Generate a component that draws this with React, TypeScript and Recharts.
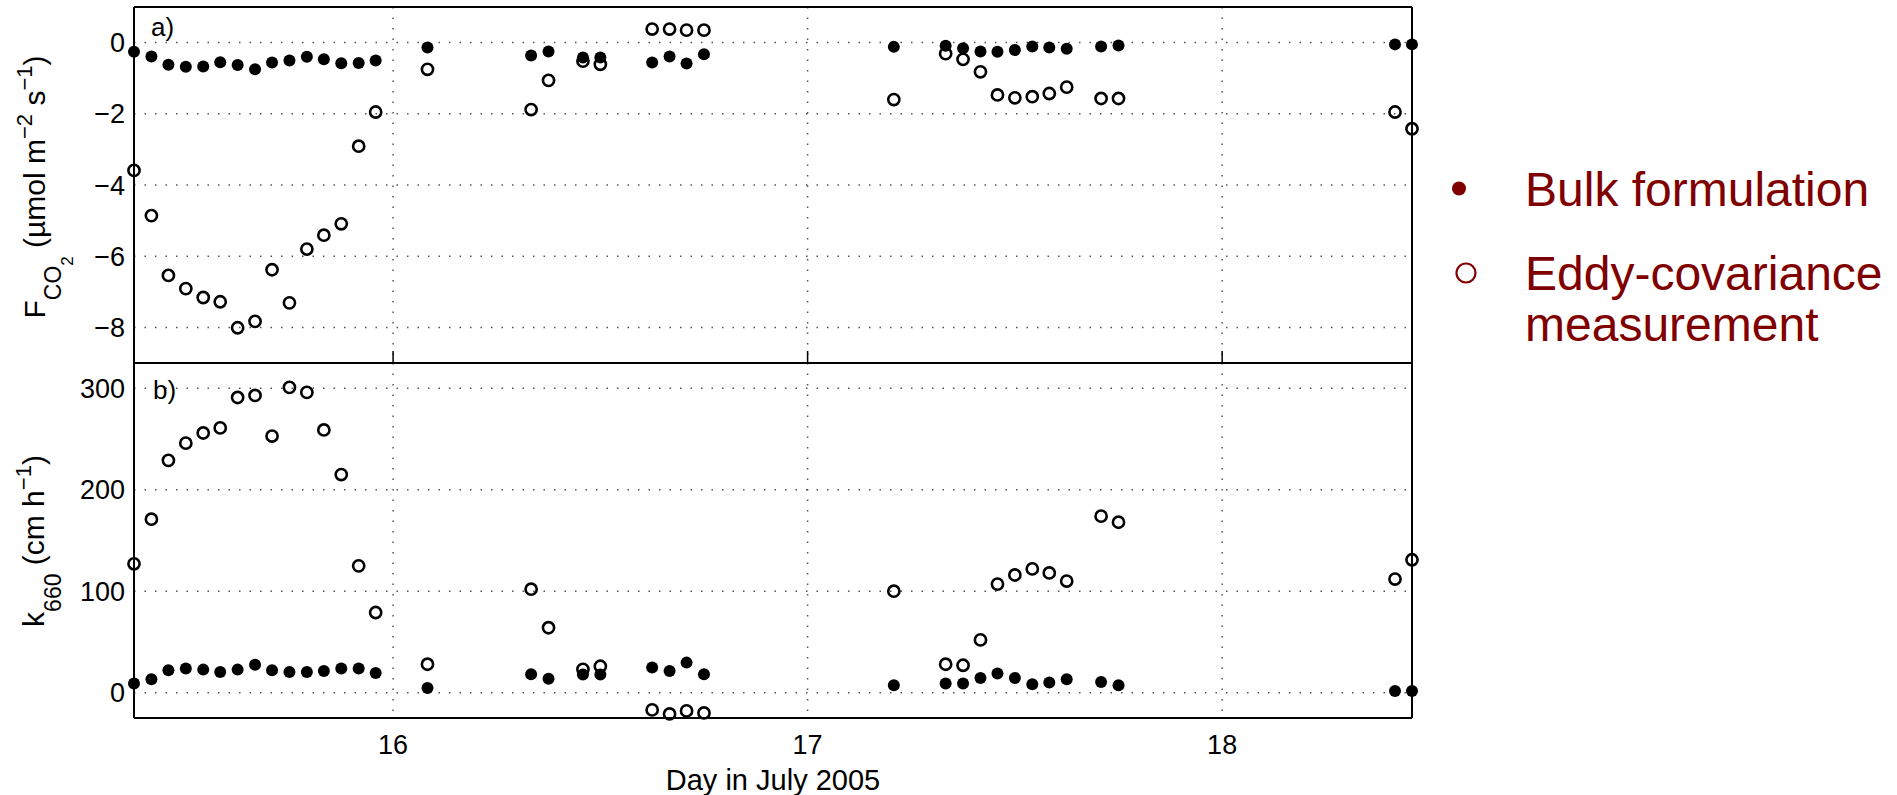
import { ScatterChart, Scatter, XAxis, YAxis, CartesianGrid } from 'recharts'

// Hourly samples (day of July 2005, fractional) shared by both panels.
const DAYS = [
  15.375, 15.417, 15.458, 15.5, 15.542, 15.583, 15.625, 15.667, 15.708, 15.75,
  15.792, 15.833, 15.875, 15.917, 15.958,
  16.083, 16.333, 16.375, 16.458, 16.5, 16.625, 16.667, 16.708, 16.75,
  17.208, 17.333, 17.375, 17.417, 17.458, 17.5, 17.542, 17.583, 17.625, 17.708, 17.75,
  18.417, 18.458,
]

// a) CO2 flux, umol m-2 s-1
const FCO2_BULK = [
  -0.26, -0.39, -0.62, -0.68, -0.67, -0.55, -0.63, -0.75, -0.56, -0.5,
  -0.4, -0.47, -0.58, -0.57, -0.5,
  -0.14, -0.36, -0.25, -0.42, -0.42, -0.56, -0.39, -0.59, -0.33,
  -0.12, -0.09, -0.16, -0.25, -0.26, -0.21, -0.11, -0.14, -0.17, -0.11, -0.08,
  -0.05, -0.05,
]
const FCO2_EDDY = [
  -3.59, -4.86, -6.54, -6.91, -7.16, -7.28, -8.01, -7.83, -6.38, -7.31,
  -5.8, -5.41, -5.09, -2.91, -1.95,
  -0.75, -1.88, -1.06, -0.52, -0.61, 0.38, 0.38, 0.35, 0.35,
  -1.6, -0.31, -0.47, -0.82, -1.47, -1.55, -1.52, -1.43, -1.25, -1.57, -1.57,
  -1.95, -2.42,
]

// b) gas transfer velocity k660, cm h-1
const K660_BULK = [
  8.9, 13.2, 22, 23.7, 22.7, 20.4, 22.7, 27.6, 22, 20.4,
  20.4, 21.4, 23.7, 23.7, 19.4,
  4.6, 18.1, 13.8, 17.8, 17.8, 24.7, 21.4, 29.6, 18.1,
  7.2, 8.9, 8.9, 14.5, 18.8, 14.5, 8.2, 9.9, 13.2, 10.5, 7.2,
  1.6, 1.6,
]
const K660_EDDY = [
  127, 171, 229, 246, 256, 261, 291, 293, 253, 301,
  296, 259, 215, 125, 79,
  28, 102, 64, 23, 26, -17, -21, -18, -20,
  100, 28, 27, 52, 107, 116, 122, 118, 110, 174, 168,
  112, 131,
]

const X_TICKS = [16, 17, 18]
const FCO2_TICKS = [-8, -6, -4, -2, 0]
const K660_TICKS = [0, 100, 200, 300]
const LEGEND_LINES = [['Bulk formulation'], ['Eddy-covariance', 'measurement']]

const X_DOMAIN: [number, number] = [15.375, 18.458]
const FONT = '"Liberation Sans", Arial, Helvetica, sans-serif'
const DARK_RED = '#800000'
const AXIS = { stroke: '#000', strokeWidth: 2 }
const TICK_LINE = { stroke: '#000', strokeWidth: 1.5 }
const TICK_TEXT = { fill: '#000', fontSize: 27, fontFamily: FONT }

const fmt = (v: number) => (v < 0 ? `\u2212${-v}` : `${v}`)
const blank = () => ''

const FilledDot = (p: any) => <circle cx={p.cx} cy={p.cy} r={6} fill="#000" />
const OpenDot = (p: any) => (
  <circle cx={p.cx} cy={p.cy} r={5.6} fill="none" stroke="#000" strokeWidth={2.6} />
)

type PanelProps = {
  bulk: number[]
  eddy: number[]
  yDomain: [number, number]
  yTicks: number[]
  bottom: boolean
}

function Panel({ bulk, eddy, yDomain, yTicks, bottom }: PanelProps) {
  const bulkData = DAYS.map((x, i) => ({ x, y: bulk[i] }))
  const eddyData = DAYS.map((x, i) => ({ x, y: eddy[i] }))
  return (
    <ScatterChart
      width={1430}
      height={bottom ? 432 : 365}
      margin={bottom ? { top: 0, right: 18, bottom: 0, left: 0 } : { top: 7, right: 18, bottom: 2, left: 0 }}
    >
      <CartesianGrid stroke="#555" strokeWidth={1.5} strokeDasharray="1.5 9" />
      {bottom ? (
        <XAxis
          xAxisId={0}
          type="number"
          dataKey="x"
          domain={X_DOMAIN}
          ticks={X_TICKS}
          interval={0}
          height={77}
          tickSize={0}
          tickMargin={17}
          tickLine={false}
          axisLine={AXIS}
          tick={TICK_TEXT}
          label={{
            value: 'Day in July 2005',
            position: 'insideBottom',
            offset: 5,
            fill: '#000',
            fontSize: 29,
            fontFamily: FONT,
          }}
        />
      ) : (
        <XAxis
          xAxisId={0}
          type="number"
          dataKey="x"
          domain={X_DOMAIN}
          ticks={X_TICKS}
          interval={0}
          mirror
          tickFormatter={blank}
          tickSize={12}
          tickLine={TICK_LINE}
          axisLine={AXIS}
        />
      )}
      {bottom && (
        <XAxis
          xAxisId="bt"
          type="number"
          domain={X_DOMAIN}
          ticks={X_TICKS}
          interval={0}
          mirror
          tickFormatter={blank}
          tickSize={12}
          tickLine={TICK_LINE}
          axisLine={false}
        />
      )}
      <XAxis
        xAxisId="tp"
        orientation="top"
        type="number"
        domain={X_DOMAIN}
        ticks={X_TICKS}
        interval={0}
        mirror
        tickFormatter={blank}
        tickSize={12}
        tickLine={TICK_LINE}
        axisLine={AXIS}
      />
      <YAxis
        yAxisId={0}
        type="number"
        dataKey="y"
        domain={yDomain}
        ticks={yTicks}
        interval={0}
        width={134}
        tickSize={0}
        tickMargin={9}
        tickLine={false}
        axisLine={AXIS}
        tick={TICK_TEXT}
        tickFormatter={fmt}
      />
      <YAxis
        yAxisId="lt"
        type="number"
        domain={yDomain}
        ticks={yTicks}
        interval={0}
        mirror
        tickFormatter={blank}
        tickSize={12}
        tickLine={TICK_LINE}
        axisLine={false}
      />
      <YAxis
        yAxisId="rt"
        orientation="right"
        type="number"
        domain={yDomain}
        ticks={yTicks}
        interval={0}
        mirror
        tickFormatter={blank}
        tickSize={12}
        tickLine={TICK_LINE}
        axisLine={AXIS}
      />
      <Scatter
        name={LEGEND_LINES[1].join(' ')}
        data={eddyData}
        xAxisId={0}
        yAxisId={0}
        shape={OpenDot}
        isAnimationActive={false}
      />
      <Scatter
        name={LEGEND_LINES[0].join(' ')}
        data={bulkData}
        xAxisId={0}
        yAxisId={0}
        shape={FilledDot}
        isAnimationActive={false}
      />
    </ScatterChart>
  )
}

export default function App() {
  return (
    <div
      style={{
        position: 'absolute',
        left: 0,
        top: 0,
        width: 1897,
        height: 795,
        overflow: 'hidden',
        background: '#fff',
        fontFamily: FONT,
      }}
    >
      <div style={{ position: 'absolute', left: 0, top: 0 }}>
        <Panel bulk={FCO2_BULK} eddy={FCO2_EDDY} yDomain={[-9, 1]} yTicks={FCO2_TICKS} bottom={false} />
      </div>
      <div style={{ position: 'absolute', left: 0, top: 363 }}>
        <Panel bulk={K660_BULK} eddy={K660_EDDY} yDomain={[-25, 325]} yTicks={K660_TICKS} bottom />
      </div>

      {/* axis titles, panel tags and legend */}
      <svg
        width={1897}
        height={795}
        style={{ position: 'absolute', left: 0, top: 0, pointerEvents: 'none' }}
        fontFamily={FONT}
      >
        <text transform="translate(45,187) rotate(-90)" textAnchor="middle" fontSize={30} fill="#000">
          <tspan>F</tspan>
          <tspan fontSize={23} dy={16}>CO</tspan>
          <tspan fontSize={17} dy={12}>2</tspan>
          <tspan dy={-28}> (µmol m</tspan>
          <tspan fontSize={22} dy={-13}>{'\u22122'}</tspan>
          <tspan dy={13}> s</tspan>
          <tspan fontSize={22} dy={-13}>{'\u22121'}</tspan>
          <tspan dy={13}>)</tspan>
        </text>
        <text transform="translate(44,541) rotate(-90)" textAnchor="middle" fontSize={30} fill="#000">
          <tspan>k</tspan>
          <tspan fontSize={23} dy={17}>660</tspan>
          <tspan dy={-17}> (cm h</tspan>
          <tspan fontSize={22} dy={-13}>{'\u22121'}</tspan>
          <tspan dy={13}>)</tspan>
        </text>
        <text x={151} y={36} fontSize={26} fill="#000">a)</text>
        <text x={153} y={399} fontSize={26} fill="#000">b)</text>

        <circle cx={1459} cy={188.5} r={7} fill={DARK_RED} />
        <circle cx={1466} cy={273} r={9.5} fill="none" stroke={DARK_RED} strokeWidth={2.2} />
        <text x={1525} y={206} fontSize={48} fill={DARK_RED}>{LEGEND_LINES[0][0]}</text>
        <text x={1525} y={290} fontSize={48} fill={DARK_RED}>{LEGEND_LINES[1][0]}</text>
        <text x={1525} y={341} fontSize={48} fill={DARK_RED}>{LEGEND_LINES[1][1]}</text>
      </svg>
    </div>
  )
}
